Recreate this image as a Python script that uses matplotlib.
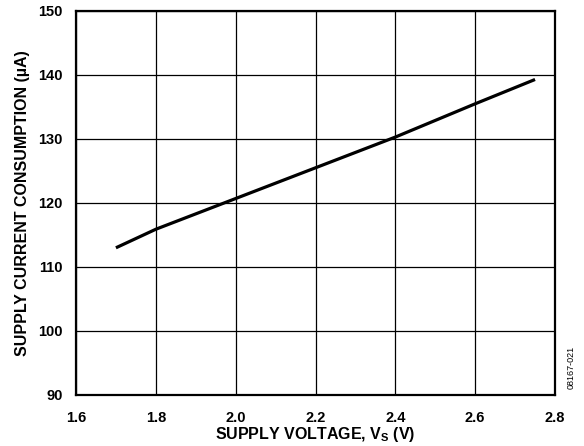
import matplotlib
matplotlib.use("Agg")
import matplotlib.pyplot as plt

voltage = [1.7, 1.8, 1.9, 2.0, 2.2, 2.4, 2.6, 2.75]
current = [113.0, 115.9, 118.3, 120.7, 125.5, 130.3, 135.5, 139.3]
x_ticks = [1.6, 1.8, 2.0, 2.2, 2.4, 2.6, 2.8]
y_ticks = [90, 100, 110, 120, 130, 140, 150]

plt.rcParams['font.family'] = ['Liberation Sans', 'DejaVu Sans']
plt.rcParams['mathtext.fontset'] = 'custom'
plt.rcParams['mathtext.bf'] = 'Liberation Sans:bold'
plt.rcParams['mathtext.rm'] = 'Liberation Sans:bold'

fig = plt.figure(figsize=(5.84, 4.46), dpi=100)
ax = fig.add_axes([76/584, 1-395/446, 479/584, 384/446])

ax.plot(voltage, current, color='black', lw=2.3, solid_capstyle='butt')
ax.set_xlim(1.6, 2.8)
ax.set_ylim(90, 150)
ax.set_xticks(x_ticks)
ax.set_xticklabels([f"{v:.1f}" for v in x_ticks])
ax.set_yticks(y_ticks)
ax.set_yticklabels([str(v) for v in y_ticks])
ax.grid(True, color='black', lw=0.9)
ax.set_axisbelow(True)
for s in ax.spines.values():
    s.set_linewidth(1.6)
ax.tick_params(axis='x', length=0, labelsize=10.5, pad=11.5)
ax.tick_params(axis='y', length=0, labelsize=10.5, pad=9.4)
for lbl in ax.get_xticklabels() + ax.get_yticklabels():
    lbl.set_fontweight('bold')

ax.set_xlabel(r'SUPPLY VOLTAGE, $\mathbf{V_S}$ (V)', fontsize=11.5, fontweight='bold', labelpad=0)
ax.set_ylabel('SUPPLY CURRENT CONSUMPTION (µA)', fontsize=11.5, fontweight='bold', labelpad=6)

fig.text(571/584, 1-367/446, '08167-021', rotation=90, fontsize=6.5, ha='center', va='center')

fig.savefig('out.png', dpi=100)
